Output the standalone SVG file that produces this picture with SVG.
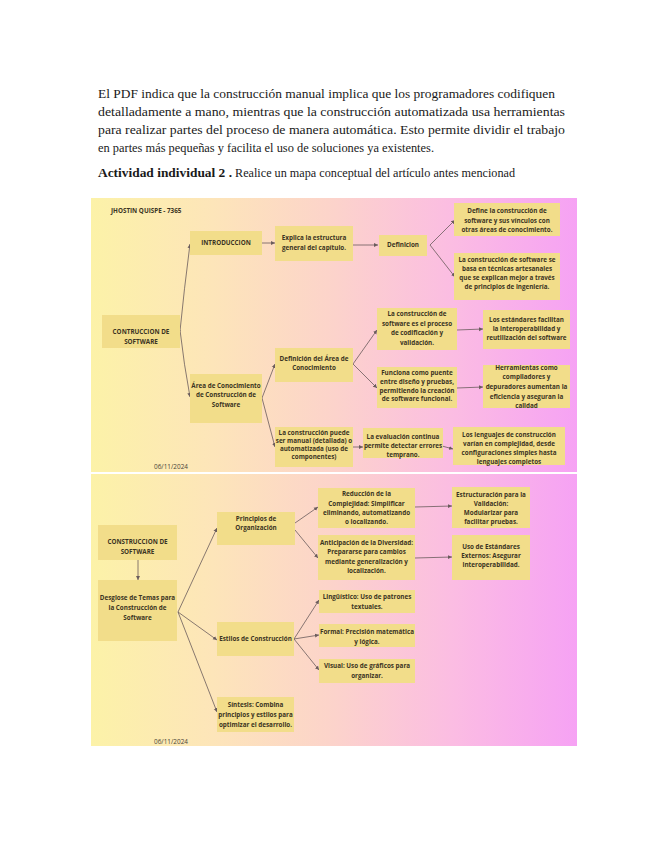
<svg xmlns="http://www.w3.org/2000/svg" width="655" height="848" viewBox="0 0 655 848">
<style>
.p{font-family:"Liberation Serif","DejaVu Serif",serif;font-size:13.5px;fill:#1a1a1a}
.pb{font-weight:bold}
.b{fill:#f2dd8a}
.t{font-family:"Open Sans","DejaVu Sans",sans-serif;font-size:6.3px;font-weight:700;fill:#3b3423;text-anchor:middle}
.d{font-family:"Open Sans","DejaVu Sans",sans-serif;font-size:6.4px;fill:#4a4438;text-anchor:middle}
.c{fill:none;stroke:#6a5c5c;stroke-width:0.8}
.a{marker-end:url(#ah)}
</style>
<defs>
<linearGradient id="bg" x1="0" y1="0" x2="1" y2="0">
<stop offset="0" stop-color="#fcf2a8"/>
<stop offset="0.25" stop-color="#fde5b9"/>
<stop offset="0.5" stop-color="#fcd3cb"/>
<stop offset="0.75" stop-color="#fbbce3"/>
<stop offset="1" stop-color="#f6a2f4"/>
</linearGradient>
<marker id="ah" markerWidth="5" markerHeight="5" refX="4" refY="2.5" orient="auto" markerUnits="userSpaceOnUse">
<path d="M0,0.5 L4,2.5 L0,4.5 Z" fill="#6a5c5c"/>
</marker>
</defs>
<rect width="655" height="848" fill="#ffffff"/>
<g id="paragraph">
<text class="p" x="98" y="98" textLength="457" lengthAdjust="spacingAndGlyphs">El PDF indica que la construcción manual implica que los programadores codifiquen</text>
<text class="p" x="98" y="116" textLength="467" lengthAdjust="spacingAndGlyphs">detalladamente a mano, mientras que la construcción automatizada usa herramientas</text>
<text class="p" x="98" y="134" textLength="467" lengthAdjust="spacingAndGlyphs">para realizar partes del proceso de manera automática. Esto permite dividir el trabajo</text>
<text class="p" x="98" y="152" textLength="336" lengthAdjust="spacingAndGlyphs">en partes más pequeñas y facilita el uso de soluciones ya existentes.</text>
<text class="p pb" x="98" y="177" textLength="134" lengthAdjust="spacingAndGlyphs">Actividad individual 2 .</text>
<text class="p" x="235" y="177" textLength="280" lengthAdjust="spacingAndGlyphs">Realice un mapa conceptual del artículo antes mencionad</text>
</g>
<rect x="91" y="198" width="486" height="274" fill="url(#bg)"/>
<rect x="91" y="474" width="486" height="272" fill="url(#bg)"/>
<text class="t" x="111" y="213" style="text-anchor:start">JHOSTIN QUISPE - 7365</text>
<text class="d" x="171" y="469">06/11/2024</text>
<text class="d" x="171" y="744">06/11/2024</text>
<g id="connectors">
<path class="c a" d="M180,331 Q184,290 190,244"/>
<path class="c a" d="M180,330 Q184,365 190,397"/>
<path class="c a" d="M262,243 L275,243"/>
<path class="c a" d="M353,245 L378,245"/>
<path class="c a" d="M430,245 L455,220"/>
<path class="c a" d="M430,245 L455,277"/>
<path class="c a" d="M262,398 L275,364"/>
<path class="c a" d="M262,398 L275,447"/>
<path class="c a" d="M353,364 L377,330"/>
<path class="c a" d="M353,364 L377,388"/>
<path class="c a" d="M457,330 L483,329"/>
<path class="c a" d="M457,388 L483,387"/>
<path class="c a" d="M353,447 L363,447"/>
<path class="c a" d="M442,446 L453,449"/>
<path class="c a" d="M138,560 L138,580"/>
<path class="c a" d="M178,612 L217,528"/>
<path class="c a" d="M178,612 L217,640"/>
<path class="c a" d="M178,612 L217,712"/>
<path class="c a" d="M295,523 L318,507"/>
<path class="c a" d="M295,530 L318,558"/>
<path class="c a" d="M294,639 L319,600"/>
<path class="c a" d="M294,639 L319,635"/>
<path class="c a" d="M294,639 L319,670"/>
<path class="c a" d="M415,507 L452,506"/>
<path class="c a" d="M415,558 L452,557"/>
</g>
<g id="n1"><rect class="b" x="190" y="231" width="72" height="24"/><text class="t" x="226" y="245">INTRODUCCION</text></g>
<g id="n2"><rect class="b" x="275" y="226" width="78" height="35"/><text class="t" x="314" y="240">Explica la estructura</text><text class="t" x="314" y="250">general del capítulo.</text></g>
<g id="n3"><rect class="b" x="379" y="235" width="48" height="21"/><text class="t" x="403" y="247">Definicion</text></g>
<g id="n4"><rect class="b" x="454" y="203" width="106" height="33"/><text class="t" x="507" y="213">Define la construcción de</text><text class="t" x="507" y="223">software y sus vínculos con</text><text class="t" x="507" y="232">otras áreas de conocimiento.</text></g>
<g id="n5"><rect class="b" x="454" y="253" width="106" height="47"/><text class="t" x="507" y="262">La construcción de software se</text><text class="t" x="507" y="271">basa en técnicas artesanales</text><text class="t" x="507" y="280">que se explican mejor a través</text><text class="t" x="507" y="289">de principios de ingeniería.</text></g>
<g id="n6"><rect class="b" x="102" y="315" width="78" height="33"/><text class="t" x="141" y="334">CONTRUCCION DE</text><text class="t" x="141" y="344">SOFTWARE</text></g>
<g id="n7"><rect class="b" x="190" y="374" width="72" height="49"/><text class="t" x="226" y="388">Área de Conocimiento</text><text class="t" x="226" y="397">de Construcción de</text><text class="t" x="226" y="407">Software</text></g>
<g id="n8"><rect class="b" x="275" y="348" width="78" height="34"/><text class="t" x="314" y="361">Definición del Área de</text><text class="t" x="314" y="370">Conocimiento</text></g>
<g id="n9"><rect class="b" x="275" y="427" width="78" height="40"/><text class="t" x="314" y="435">La construcción puede</text><text class="t" x="314" y="443">ser manual (detallada) o</text><text class="t" x="314" y="451">automatizada (uso de</text><text class="t" x="314" y="459">componentes)</text></g>
<g id="n10"><rect class="b" x="377" y="308" width="80" height="42"/><text class="t" x="417" y="316">La construcción de</text><text class="t" x="417" y="326">software es el proceso</text><text class="t" x="417" y="335">de codificación y</text><text class="t" x="417" y="345">validación.</text></g>
<g id="n11"><rect class="b" x="377" y="367" width="80" height="41"/><text class="t" x="417" y="375">Funciona como puente</text><text class="t" x="417" y="384">entre diseño y pruebas,</text><text class="t" x="417" y="393">permitiendo la creación</text><text class="t" x="417" y="401">de software funcional.</text></g>
<g id="n12"><rect class="b" x="483" y="310" width="87" height="39"/><text class="t" x="526.5" y="322">Los estándares facilitan</text><text class="t" x="526.5" y="331">la interoperabilidad y</text><text class="t" x="526.5" y="340">reutilización del software</text></g>
<g id="n13"><rect class="b" x="483" y="365" width="87" height="43"/><text class="t" x="526.5" y="370">Herramientas como</text><text class="t" x="526.5" y="379">compiladores y</text><text class="t" x="526.5" y="389">depuradores aumentan la</text><text class="t" x="526.5" y="399">eficiencia y aseguran la</text><text class="t" x="526.5" y="408">calidad</text></g>
<g id="n14"><rect class="b" x="363" y="428" width="80" height="30"/><text class="t" x="403" y="439">La evaluación continua</text><text class="t" x="403" y="448">permite detectar errores</text><text class="t" x="403" y="457">temprano.</text></g>
<g id="n15"><rect class="b" x="453" y="427" width="112" height="38"/><text class="t" x="509" y="437">Los lenguajes de construcción</text><text class="t" x="509" y="446">varían en complejidad, desde</text><text class="t" x="509" y="455">configuraciones simples hasta</text><text class="t" x="509" y="464">lenguajes completos</text></g>
<g id="m1"><rect class="b" x="98" y="525" width="79" height="35"/><text class="t" x="137.5" y="544">CONSTRUCCION DE</text><text class="t" x="137.5" y="554">SOFTWARE</text></g>
<g id="m2"><rect class="b" x="98" y="580" width="79" height="61"/><text class="t" x="137.5" y="600">Desglose de Temas para</text><text class="t" x="137.5" y="610">la Construcción de</text><text class="t" x="137.5" y="620">Software</text></g>
<g id="m3"><rect class="b" x="217" y="512" width="78" height="33"/><text class="t" x="256" y="521">Principios de</text><text class="t" x="256" y="530">Organización</text></g>
<g id="m4"><rect class="b" x="217" y="622" width="77" height="34"/><text class="t" x="255.5" y="641">Estilos de Construcción</text></g>
<g id="m5"><rect class="b" x="217" y="697" width="77" height="35"/><text class="t" x="255.5" y="707">Síntesis: Combina</text><text class="t" x="255.5" y="717">principios y estilos para</text><text class="t" x="255.5" y="727">optimizar el desarrollo.</text></g>
<g id="m6"><rect class="b" x="318" y="488" width="97" height="40"/><text class="t" x="366.5" y="496">Reducción de la</text><text class="t" x="366.5" y="506">Complejidad: Simplificar</text><text class="t" x="366.5" y="515">eliminando, automatizando</text><text class="t" x="366.5" y="524">o localizando.</text></g>
<g id="m7"><rect class="b" x="318" y="535" width="97" height="45"/><text class="t" x="366.5" y="545">Anticipación de la Diversidad:</text><text class="t" x="366.5" y="554">Prepararse para cambios</text><text class="t" x="366.5" y="564">mediante generalización y</text><text class="t" x="366.5" y="573">localización.</text></g>
<g id="m8"><rect class="b" x="452" y="487" width="78" height="41"/><text class="t" x="491" y="497">Estructuración para la</text><text class="t" x="491" y="506">Validación:</text><text class="t" x="491" y="515">Modularizar para</text><text class="t" x="491" y="524">facilitar pruebas.</text></g>
<g id="m9"><rect class="b" x="452" y="535" width="78" height="45"/><text class="t" x="491" y="549">Uso de Estándares</text><text class="t" x="491" y="558">Externos: Asegurar</text><text class="t" x="491" y="567">interoperabilidad.</text></g>
<g id="m10"><rect class="b" x="319" y="590" width="96" height="23"/><text class="t" x="367" y="599">Lingüístico: Uso de patrones</text><text class="t" x="367" y="609">textuales.</text></g>
<g id="m11"><rect class="b" x="319" y="624" width="96" height="23"/><text class="t" x="367" y="634">Formal: Precisión matemática</text><text class="t" x="367" y="644">y lógica.</text></g>
<g id="m12"><rect class="b" x="319" y="659" width="96" height="24"/><text class="t" x="367" y="668">Visual: Uso de gráficos para</text><text class="t" x="367" y="678">organizar.</text></g>
</svg>
